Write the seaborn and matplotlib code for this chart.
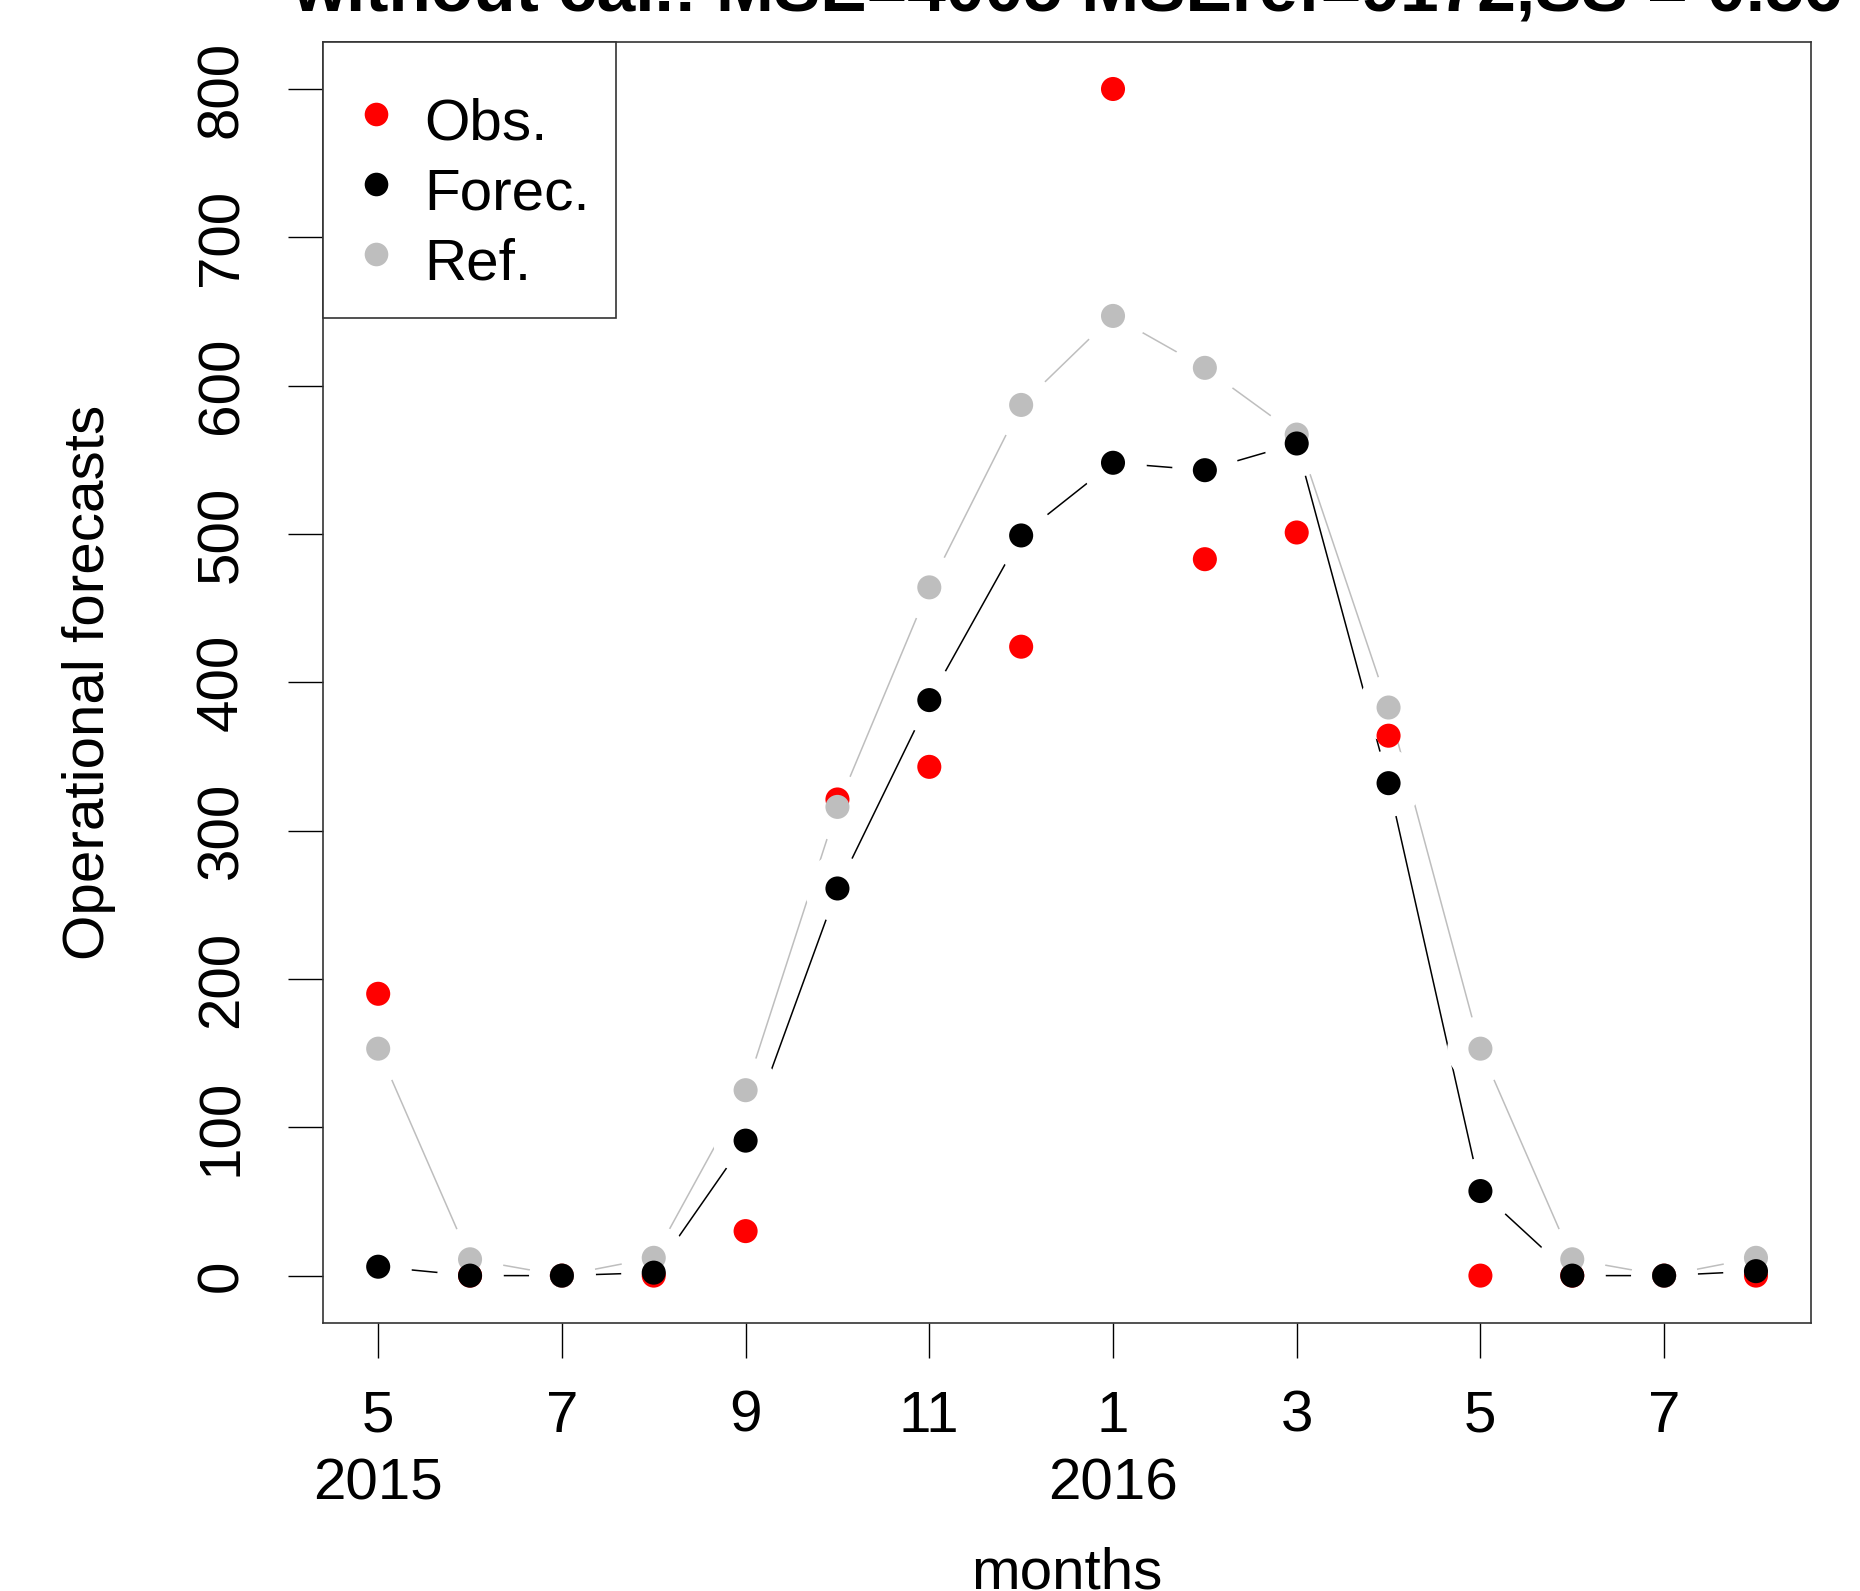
import numpy as np
import pandas as pd
import seaborn as sns
import matplotlib.pyplot as plt
from matplotlib.lines import Line2D

# months May 2015 .. Aug 2016
month_idx = np.arange(16)
tick_pos = [0, 2, 4, 6, 8, 10, 12, 14]
tick_labels = ["5\n2015", "7", "9", "11", "1\n2016", "3", "5", "7"]

obs = [190, 0, 0, 0, 30, 321, 343, 424, 800, 483, 501, 364, 0, 0, 0, 0]
forec = [6, 0, 0, 2, 91, 261, 388, 499, 548, 543, 561, 332, 57, 0, 0, 3]
ref = [153, 11, 0, 12, 125, 316, 464, 587, 647, 612, 567, 383, 153, 11, 0, 12]

title = "without cal.: MSE=4005 MSEref=9172,SS = 0.56"

colors = {"Obs.": "#FF0000", "Ref.": "#BEBEBE", "Forec.": "#000000"}

# draw order: obs, ref, forec (forecast points end up on top)
df = pd.concat([
    pd.DataFrame({"idx": month_idx, "value": obs, "series": "Obs."}),
    pd.DataFrame({"idx": month_idx, "value": ref, "series": "Ref."}),
    pd.DataFrame({"idx": month_idx, "value": forec, "series": "Forec."}),
], ignore_index=True)
lines_df = df[df.series != "Obs."]

sns.set_style("ticks")
plt.rcParams["font.family"] = ["Liberation Sans", "DejaVu Sans"]
plt.rcParams["text.color"] = "black"
plt.rcParams["xtick.labelcolor"] = "black"
plt.rcParams["ytick.labelcolor"] = "black"

fig = plt.figure(figsize=(18.6, 15.91), dpi=100)
ax = fig.add_axes([0.1737, 0.1684, 0.80, 0.8055])

fs = 42

# lines like R type="b": lines with gaps around the points
sns.lineplot(data=lines_df, x="idx", y="value", hue="series", palette=colors,
             estimator=None, sort=False, linewidth=1.1, legend=False, ax=ax, zorder=1)
sns.scatterplot(data=lines_df, x="idx", y="value", color="white", s=2300,
                linewidth=0, legend=False, ax=ax, zorder=2)
sns.scatterplot(data=df, x="idx", y="value", hue="series", palette=colors,
                s=300, linewidth=0, legend=False, ax=ax, zorder=3)

ax.set_xlim(-0.6, 15.6)
ax.set_ylim(-32, 832)
ax.set_xticks(tick_pos)
ax.set_xticklabels(tick_labels, fontsize=fs, linespacing=1.33)
ax.set_yticks(np.arange(0, 801, 100))
ax.set_yticklabels([str(v) for v in range(0, 801, 100)], fontsize=fs,
                   rotation=90, va="center")
ax.tick_params(axis="both", length=25, width=1, color="black")
ax.tick_params(axis="x", pad=23)
ax.tick_params(axis="y", pad=28)
ax.set_xlabel("")
ax.set_ylabel("")
for sp in ax.spines.values():
    sp.set_visible(True)
    sp.set_color("#333333")
    sp.set_linewidth(1.2)

handles = [Line2D([], [], marker="o", linestyle="none", markersize=17,
                  markerfacecolor=colors[k], markeredgewidth=0)
           for k in ["Obs.", "Forec.", "Ref."]]
# tiny blank title only adds a bit of room above the first entry
leg = ax.legend(handles, ["Obs.", "Forec.", "Ref."], loc="upper left",
                fontsize=fs, borderaxespad=0, borderpad=0.45, handlelength=0.9,
                handleheight=1.28, handletextpad=0.38, labelspacing=0.12,
                title=" ", title_fontsize=10,
                fancybox=False, framealpha=1, edgecolor="#333333")
leg.get_frame().set_linewidth(1.2)

fig.text(0.5737, 0.9937, title, fontsize=50, fontweight="bold",
         ha="center", va="baseline")
fig.text(0.5737, 0.0015, "months", fontsize=fs, ha="center", va="baseline")
fig.text(0.0478, 0.5711, "Operational forecasts", fontsize=fs, rotation=90,
         ha="center", va="center")

fig.savefig("out.png", dpi=100, facecolor="white")
